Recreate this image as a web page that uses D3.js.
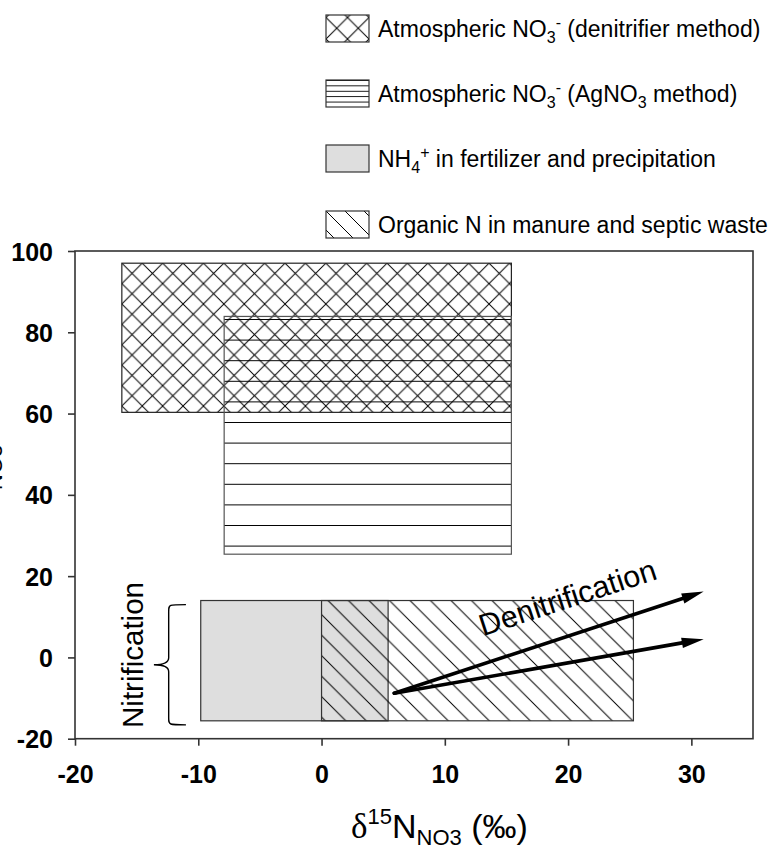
<!DOCTYPE html>
<html><head><meta charset="utf-8">
<script src="https://cdn.jsdelivr.net/npm/d3@7"></script>
<style>body{margin:0;background:#fff} svg{display:block}</style>
</head><body><svg id="c" width="771" height="849"></svg>
<script>
// ---- data ----
const xTicks = [-20, -10, 0, 10, 20, 30];
const yTicks = [-20, 0, 20, 40, 60, 80, 100];
const sourceKeys = ["cross", "horiz", "gray", "diag"];
const sourceX0 = [-16.2, -7.9, -9.8, 0];
const sourceX1 = [15.4, 15.4, 5.4, 25.3];
const sourceY0 = [60.3, 25.4, -15.6, -15.6];
const sourceY1 = [97.0, 83.9, 14.0, 14.0];
const arrowStart = [5.9, -8.8];
const arrowEndX = [31.0, 31.0];
const arrowEndY = [16.2, 4.5];
const braceXs = [-11.0, -12.4, -13.6]; // ends, stem, tip
const braceYs = [13.0, -16.6];
const nitrLabel = [-14.45, 0.6];
const denitLabel = [13.1, 5.2];

const W = 771, H = 849;
const svg = d3.select("#c");
const FONT = "'Liberation Sans', Arial, Helvetica, sans-serif";
const SERIF = "'Liberation Serif', 'Times New Roman', serif";

const x = d3.scaleLinear().domain([-20, 35]).range([75, 753]);
const y = d3.scaleLinear().domain([-20, 100]).range([738.7, 251]);

// ---- patterns ----
const defs = svg.append("defs");
function linePattern(id, w, h, d, tx, ty) {
  const p = defs.append("pattern").attr("id", id).attr("patternUnits", "userSpaceOnUse")
    .attr("width", w).attr("height", h)
    .attr("patternTransform", `translate(${tx || 0},${ty || 0})`);
  p.append("path").attr("d", d).attr("stroke", "#000").attr("stroke-width", 1).attr("fill", "none");
}
const cp = 20.4;
linePattern("cross", cp, cp, `M0,0L${cp},${cp}M${cp},0L0,${cp}M-1,-1L1,1M${cp-1},${cp+1}L${cp+1},${cp-1}`, x(sourceX0[0]), y(sourceY1[0]));
const hp = 20.6;
linePattern("horiz", 50, hp, `M0,0.5H50`, 0, 319);
const dp = 20.5;
linePattern("diag", dp, dp, `M0,0L${dp},${dp}M${-dp/2},${dp/2}L${dp/2},${dp*1.5}M${dp/2},${-dp/2}L${dp*1.5},${dp/2}`, 0, y(sourceY1[3]));
// legend patterns
linePattern("crossL", 21.5, 21.5, `M0,0L21.5,21.5M21.5,0L0,21.5`, 326, 17.5);
linePattern("horizL", 50, 5.4, `M0,0.5H50`, 0, 80);
linePattern("diagL", 19, 19, `M0,0L19,19M-9.5,9.5L9.5,28.5M9.5,-9.5L28.5,9.5`, 326, 211);

const fills = { cross: "url(#cross)", horiz: "url(#horiz)", gray: "#dedede", diag: "url(#diag)" };
const fillsL = { cross: "url(#crossL)", horiz: "url(#horizL)", gray: "#dedede", diag: "url(#diagL)" };
const strokes = { cross: "#222", horiz: "#555", gray: "#333", diag: "#333" };

// ---- boxes ----
const idx = d3.range(sourceKeys.length);
svg.append("g").selectAll("rect").data(idx).join("rect")
  .attr("x", i => x(sourceX0[i]))
  .attr("y", i => y(sourceY1[i]))
  .attr("width", i => x(sourceX1[i]) - x(sourceX0[i]))
  .attr("height", i => y(sourceY0[i]) - y(sourceY1[i]))
  .attr("fill", i => fills[sourceKeys[i]])
  .attr("stroke", i => strokes[sourceKeys[i]])
  .attr("stroke-width", 1.2);

// ---- frame ----
svg.append("rect").attr("x", x(-20)).attr("y", y(100))
  .attr("width", x(35) - x(-20)).attr("height", y(-20) - y(100))
  .attr("fill", "none").attr("stroke", "#333").attr("stroke-width", 1.6);

// ---- axes ----
const gx = svg.append("g").attr("transform", `translate(0,${y(-20)})`)
  .call(d3.axisBottom(x).tickValues(xTicks).tickSize(7).tickPadding(20).tickFormat(d3.format("d")));
const gy = svg.append("g").attr("transform", `translate(${x(-20)},0)`)
  .call(d3.axisLeft(y).tickValues(yTicks).tickSize(7).tickPadding(15).tickFormat(d3.format("d")));
[gx, gy].forEach(g => {
  g.select(".domain").remove();
  g.selectAll(".tick line").attr("stroke", "#333").attr("stroke-width", 1.6);
  g.selectAll(".tick text").attr("font-family", FONT).attr("font-size", 25)
    .attr("font-weight", "bold").attr("fill", "#000");
});
gy.selectAll(".tick text").attr("dy", "0.36em");
gx.selectAll(".tick text").text(d => d < 0 ? "-" + Math.abs(d) : d);
gy.selectAll(".tick text").text(d => d < 0 ? "-" + Math.abs(d) : d);

// ---- arrows ----
const ag = svg.append("g");
const sx = x(arrowStart[0]), sy = y(arrowStart[1]);
arrowEndX.forEach((ex0, i) => {
  const ex = x(ex0), ey = y(arrowEndY[i]);
  const a = Math.atan2(ey - sy, ex - sx);
  const L = 22, hw = 5.2;
  const bx = ex - L * Math.cos(a), by = ey - L * Math.sin(a);
  ag.append("line").attr("x1", sx).attr("y1", sy).attr("x2", bx + 3 * Math.cos(a)).attr("y2", by + 3 * Math.sin(a))
    .attr("stroke", "#000").attr("stroke-width", 3.6).attr("stroke-linecap", "round");
  ag.append("path").attr("d", `M${ex},${ey}L${bx - hw * Math.sin(a)},${by + hw * Math.cos(a)}L${bx + hw * Math.sin(a)},${by - hw * Math.cos(a)}Z`)
    .attr("fill", "#000");
});
const upA = Math.atan2(y(arrowEndY[0]) - sy, x(arrowEndX[0]) - sx) * 180 / Math.PI;
svg.append("text").attr("transform", `translate(${x(denitLabel[0])},${y(denitLabel[1])}) rotate(${upA})`)
  .attr("font-family", FONT).attr("font-size", 30.5).attr("fill", "#000").text("Denitrification");

// ---- brace ----
{
  const xe = x(braceXs[0]), xs = x(braceXs[1]), xt = x(braceXs[2]);
  const yt = y(braceYs[0]), yb = y(braceYs[1]), ym = (yt + yb) / 2;
  const d = `M${xe},${yt}C${xs},${yt} ${xs},${yt} ${xs},${yt + 7}L${xs},${ym - 7}Q${xs},${ym} ${xt},${ym}Q${xs},${ym} ${xs},${ym + 7}L${xs},${yb - 7}C${xs},${yb} ${xs},${yb} ${xe},${yb}`;
  svg.append("path").attr("d", d).attr("fill", "none").attr("stroke", "#000").attr("stroke-width", 1.4);
}
svg.append("text").attr("transform", `translate(${x(nitrLabel[0])},${y(nitrLabel[1])}) rotate(-90)`)
  .attr("text-anchor", "middle").attr("font-family", FONT).attr("font-size", 29.5).attr("fill", "#000")
  .text("Nitrification");

// ---- axis titles ----
function richTitle(sel, lead, sup, main, sub, subDy) {
  const t = [];
  t.push(sel.append("tspan").attr("font-family", SERIF).attr("font-size", 35).text(lead));
  t.push(sel.append("tspan").attr("font-size", 22).attr("dy", -14).text(sup));
  t.push(sel.append("tspan").attr("font-size", 34).attr("dy", 14).text(main));
  t.push(sel.append("tspan").attr("font-size", 22).attr("dy", subDy).text(sub));
  t.push(sel.append("tspan").attr("font-size", 34).attr("dy", -subDy).text(" (\u2030)"));
  return t;
}
const xt = svg.append("text").attr("x", 351).attr("y", 838).attr("font-family", FONT).attr("fill", "#000");
richTitle(xt, "\u03B4", "15", "N", "NO3", 7);
const yt = svg.append("text").attr("font-family", FONT).attr("fill", "#000");
const ytParts = richTitle(yt, "\u03B4", "18", "O", "NO3", 13);
{
  const off = ytParts.slice(0, 3).reduce((s, t) => s + t.node().getComputedTextLength(), 0);
  yt.attr("transform", `translate(-11,${490 + off}) rotate(-90)`);
}

// ---- legend ----
const legTop = [15, 80, 145, 211];
const lg = svg.append("g");
idx.forEach(i => {
  lg.append("rect").attr("x", 326).attr("y", legTop[i]).attr("width", 43).attr("height", 27)
    .attr("fill", fillsL[sourceKeys[i]]).attr("stroke", "#333").attr("stroke-width", 1.2);
});
function legText(i, parts) {
  const t = lg.append("text").attr("x", 378).attr("y", legTop[i] + 13.5 + 8.5)
    .attr("font-family", FONT).attr("font-size", 23).attr("fill", "#000");
  parts.forEach(p => {
    const s = t.append("tspan").text(p[0]);
    if (p[1] === "sub") s.attr("font-size", 16).attr("dy", 6);
    if (p[1] === "sup") s.attr("font-size", 16).attr("dy", -15);
    if (p[1] === "back") s.attr("dy", p[2]);
  });
}
legText(0, [["Atmospheric NO"], ["3", "sub"], ["-", "sup"], [" (denitrifier method)", "back", 9]]);
legText(1, [["Atmospheric NO"], ["3", "sub"], ["-", "sup"], [" (AgNO", "back", 9], ["3", "sub"], [" method)", "back", -6]]);
legText(2, [["NH"], ["4", "sub"], ["+", "sup"], [" in fertilizer and precipitation", "back", 9]]);
legText(3, [["Organic N in manure and septic waste"]]);
</script></body></html>
